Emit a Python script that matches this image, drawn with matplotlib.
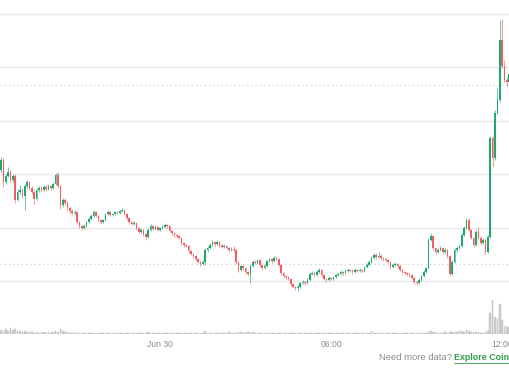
import matplotlib
matplotlib.use("Agg")
import matplotlib.pyplot as plt
import matplotlib.dates as mdates
import numpy as np
import pandas as pd

# ---- data (5-minute candles) ----
first_open = 12.08
closes = [
    12.27, 11.85, 11.97, 12.04, 11.89, 11.97, 11.52, 11.67, 11.70, 11.59,
    11.78, 11.85, 11.74, 11.67, 11.54, 11.70, 11.74, 11.70, 11.76, 11.72,
    11.78, 11.74, 11.82, 11.99, 11.78, 11.42, 11.52, 11.46, 11.37, 11.31,
    11.27, 11.29, 11.10, 11.03, 10.99, 11.03, 11.10, 11.16, 11.22, 11.29,
    11.22, 11.14, 11.10, 11.14, 11.25, 11.29, 11.24, 11.25, 11.29, 11.27,
    11.31, 11.33, 11.25, 11.18, 11.10, 11.07, 11.09, 10.99, 10.92, 10.96,
    10.88, 10.82, 10.96, 11.03, 10.97, 11.01, 10.96, 10.99, 11.01, 11.05,
    11.03, 10.94, 10.90, 10.86, 10.84, 10.81, 10.71, 10.67, 10.66, 10.56,
    10.51, 10.47, 10.41, 10.36, 10.32, 10.36, 10.58, 10.62, 10.67, 10.73,
    10.69, 10.73, 10.67, 10.64, 10.66, 10.62, 10.58, 10.60, 10.58, 10.36,
    10.21, 10.28, 10.24, 10.17, 10.13, 10.28, 10.36, 10.34, 10.39, 10.30,
    10.24, 10.28, 10.37, 10.41, 10.37, 10.43, 10.41, 10.30, 10.15, 10.09,
    10.07, 10.04, 9.94, 9.89, 9.87, 9.89, 9.96, 9.98, 9.96, 10.02,
    10.13, 10.15, 10.11, 10.17, 10.21, 10.11, 10.04, 10.02, 10.06, 10.04,
    10.07, 10.11, 10.13, 10.17, 10.15, 10.19, 10.21, 10.19, 10.17, 10.21,
    10.19, 10.21, 10.19, 10.26, 10.30, 10.36, 10.43, 10.49, 10.45, 10.47,
    10.43, 10.41, 10.39, 10.36, 10.26, 10.30, 10.32, 10.28, 10.21, 10.17,
    10.15, 10.13, 10.11, 10.06, 9.98, 9.96, 10.02, 10.09, 10.17, 10.24,
    10.77, 10.84, 10.62, 10.54, 10.58, 10.62, 10.54, 10.58, 10.47, 10.13,
    10.36, 10.58, 10.62, 10.66, 10.86, 10.99, 11.14, 10.96, 10.81, 10.67,
    10.92, 10.81, 10.71, 10.77, 10.54, 10.82, 12.68, 12.30, 13.15, 13.39,
    14.51, 14.03, 13.76, 13.73, 13.88,
]
highs = [
    12.32, 12.30, 12.01, 12.13, 12.08, 12.01, 12.00, 11.72, 11.80, 11.74,
    11.82, 11.89, 11.88, 11.77, 11.70, 11.74, 11.78, 11.77, 11.79, 11.79,
    11.81, 11.80, 11.85, 12.03, 12.04, 11.80, 11.56, 11.55, 11.49, 11.40,
    11.34, 11.33, 11.31, 11.12, 11.05, 11.06, 11.13, 11.19, 11.25, 11.33,
    11.31, 11.24, 11.16, 11.17, 11.28, 11.33, 11.31, 11.28, 11.32, 11.31,
    11.33, 11.36, 11.35, 11.27, 11.20, 11.12, 11.12, 11.11, 11.01, 10.99,
    10.98, 10.90, 10.99, 11.06, 11.05, 11.04, 11.03, 11.02, 11.04, 11.08,
    11.07, 11.05, 10.96, 10.92, 10.88, 10.86, 10.83, 10.73, 10.70, 10.68,
    10.58, 10.53, 10.49, 10.43, 10.38, 10.39, 10.61, 10.65, 10.71, 10.77,
    10.75, 10.76, 10.75, 10.69, 10.69, 10.68, 10.64, 10.63, 10.66, 10.60,
    10.38, 10.31, 10.30, 10.26, 10.19, 10.31, 10.39, 10.39, 10.42, 10.41,
    10.32, 10.31, 10.40, 10.44, 10.43, 10.46, 10.46, 10.43, 10.32, 10.17,
    10.11, 10.09, 10.06, 9.96, 9.91, 9.92, 9.99, 10.01, 10.00, 10.05,
    10.16, 10.18, 10.17, 10.20, 10.24, 10.23, 10.13, 10.06, 10.09, 10.08,
    10.10, 10.14, 10.16, 10.20, 10.19, 10.22, 10.24, 10.23, 10.22, 10.24,
    10.23, 10.24, 10.23, 10.29, 10.33, 10.39, 10.46, 10.53, 10.52, 10.54,
    10.50, 10.45, 10.43, 10.41, 10.38, 10.33, 10.35, 10.34, 10.30, 10.23,
    10.19, 10.17, 10.15, 10.13, 10.08, 10.00, 10.05, 10.12, 10.20, 10.27,
    10.80, 10.90, 10.86, 10.64, 10.62, 10.66, 10.64, 10.62, 10.60, 10.49,
    10.40, 10.62, 10.65, 10.70, 10.90, 11.03, 11.18, 11.18, 10.98, 10.83,
    10.95, 11.01, 10.85, 10.80, 10.79, 10.86, 12.72, 12.72, 13.20, 13.61,
    14.89, 14.91, 14.14, 13.82, 13.92,
]
lows = [
    12.04, 11.76, 11.82, 11.94, 11.85, 11.86, 11.46, 11.50, 11.63, 11.55,
    11.33, 11.74, 11.70, 11.62, 11.44, 11.52, 11.67, 11.67, 11.68, 11.69,
    11.70, 11.71, 11.72, 11.80, 11.75, 11.35, 11.38, 11.42, 11.33, 11.28,
    11.24, 11.24, 11.07, 11.00, 10.96, 10.97, 11.01, 11.08, 11.14, 11.20,
    11.19, 11.11, 11.06, 11.08, 11.12, 11.23, 11.21, 11.22, 11.23, 11.25,
    11.25, 11.29, 11.23, 11.15, 11.07, 11.04, 11.05, 10.96, 10.89, 10.90,
    10.85, 10.77, 10.80, 10.94, 10.95, 10.95, 10.93, 10.94, 10.97, 10.99,
    11.00, 10.91, 10.87, 10.83, 10.81, 10.78, 10.68, 10.64, 10.63, 10.53,
    10.48, 10.44, 10.38, 10.33, 10.29, 10.30, 10.30, 10.55, 10.60, 10.65,
    10.66, 10.67, 10.64, 10.61, 10.62, 10.59, 10.55, 10.56, 10.55, 10.32,
    10.17, 10.19, 10.21, 10.13, 10.10, 9.96, 10.26, 10.31, 10.32, 10.27,
    10.21, 10.22, 10.26, 10.35, 10.34, 10.35, 10.38, 10.27, 10.12, 10.06,
    10.04, 10.01, 9.91, 9.86, 9.83, 9.81, 9.87, 9.94, 9.93, 9.94,
    10.00, 10.11, 10.08, 10.09, 10.15, 10.08, 10.01, 9.99, 10.00, 10.01,
    10.02, 10.05, 10.09, 10.11, 10.12, 10.13, 10.17, 10.16, 10.14, 10.15,
    10.16, 10.17, 10.16, 10.17, 10.24, 10.28, 10.34, 10.41, 10.42, 10.43,
    10.40, 10.38, 10.36, 10.33, 10.23, 10.24, 10.28, 10.25, 10.18, 10.14,
    10.12, 10.10, 10.08, 10.03, 9.95, 9.93, 9.94, 10.00, 10.07, 10.15,
    10.22, 10.74, 10.58, 10.50, 10.52, 10.56, 10.51, 10.52, 10.44, 10.09,
    10.11, 10.34, 10.55, 10.59, 10.64, 10.84, 10.97, 10.93, 10.78, 10.63,
    10.65, 10.78, 10.68, 10.69, 10.51, 10.52, 10.80, 12.13, 12.27, 13.12,
    13.35, 13.99, 13.72, 13.66, 13.54,
]
volumes = [
    4, 3, 5, 3, 6, 4, 5, 3, 3, 2,
    3, 2, 2, 2, 1.5, 2, 1.5, 2, 2, 1.5,
    2, 1.5, 2, 3, 2.5, 5, 3, 2, 2, 1.5,
    1.5, 2, 1.5, 1.5, 1.5, 1, 1.5, 1, 1.5, 1,
    1, 1.5, 1, 1, 1.5, 1, 1, 1.5, 1, 1,
    1, 1, 1, 1.5, 1, 1, 1, 1, 1.5, 1,
    1, 1, 2, 1, 1.5, 1, 1, 1, 1, 1.5,
    1, 1, 1, 1, 1, 1, 1, 1, 1, 1,
    1, 1, 1, 1, 1, 1.5, 3, 1.5, 1, 1,
    1, 1.5, 1, 1, 1, 1, 2, 1, 1, 1,
    2, 2.5, 1.5, 2, 2.5, 2.5, 2, 1.5, 1, 1,
    1, 1, 1, 1, 1, 1, 1, 1, 1, 1.5,
    1, 1, 1.5, 1, 1, 1.5, 1, 1, 1, 1.5,
    1.5, 1, 1, 1.5, 1, 1, 1, 1, 1, 1,
    1, 1, 1, 1, 1, 1, 1, 1, 1, 1,
    1, 1, 1, 1, 1, 1.5, 3, 1.5, 1, 1,
    1, 1, 1, 1, 1, 1, 1, 1, 1, 1,
    1, 1, 1, 1, 1, 1, 1.5, 1, 1, 1,
    3.5, 3, 2, 2, 1.5, 1.5, 1.5, 2, 1.5, 2,
    2, 2, 2.5, 3, 3, 2.5, 4, 3.5, 2, 2.5,
    2.5, 2, 1.5, 1.5, 2, 3, 21, 34, 17, 15,
    30, 14, 8, 7, 7,
]
grid_levels = [10, 11, 12, 13, 14, 15]
marker_levels = [13.67, 10.32]
tick_times = ["2024-06-30 00:00", "2024-06-30 06:00", "2024-06-30 12:00"]
tick_labels = ["Jun 30", "06:00", "12:00"]
start_time = "2024-06-29 18:25"

# ---- derived ----
n = len(closes)
opens = [first_open] + closes[:-1]
times = pd.date_range(start_time, periods=n, freq="5min")
xs = mdates.date2num(times.to_pydatetime())
step = 5.0 / 1440.0

GREEN = "#1ea86c"
RED = "#f05f63"

W, H = 510, 369
fig = plt.figure(figsize=(W / 100, H / 100), dpi=100)
fig.patch.set_facecolor("white")

ax_rect = [0, 35 / H, 1, 334 / H]
axv = fig.add_axes(ax_rect)
ax = fig.add_axes(ax_rect, sharex=axv)
ax.patch.set_alpha(0)

# volume
axv.bar(xs, volumes, width=step * 0.7, color="#cdcdcd", edgecolor="#c0c0c0",
        linewidth=0.3)
axv.set_ylim(0, max(volumes) * 334 / 34)
axv.axis("off")

# grid
for g in grid_levels:
    ax.axhline(g, color="#e8e8e8", lw=1.0, zorder=0)
for m in marker_levels:
    ax.axhline(m, color="#d6d6d6", lw=0.9, dashes=(1.2, 2.2), zorder=0)

o = np.array(opens); c = np.array(closes)
hi = np.array(highs); lo = np.array(lows)
up = c >= o
cols = np.where(up, GREEN, RED)
ax.vlines(xs, lo, hi, colors=cols, lw=0.8, alpha=0.6, zorder=2)
bottoms = np.minimum(o, c)
heights = np.maximum(np.abs(c - o), 0.022)
ax.bar(xs, heights, bottom=bottoms, width=step * 0.72, color=cols,
       linewidth=0, zorder=3)

x0 = xs[0] - 0.42 * step
x1 = xs[0] + 214.32 * step
ax.set_xlim(x0, x1)
ax.set_ylim(10 - 53 / 53.4, 10 + 281 / 53.4)

for s in ax.spines.values():
    s.set_visible(False)
ax.set_yticks([])
tick_x = mdates.date2num(pd.to_datetime(tick_times).to_pydatetime())
ax.set_xticks(tick_x)
ax.set_xticklabels(tick_labels, fontsize=6.2, color="#8a8a8a",
                   family="Liberation Sans")
ax.tick_params(axis="x", length=0, pad=4.0)

# footer
fig.text(452 / W, (369 - 358) / H, "Need more data?", ha="right", va="center",
         fontsize=6.8, color="#8c8c8c", family="Liberation Sans")
fig.text(454 / W, (369 - 358) / H, "Explore Coin", ha="left", va="center",
         fontsize=6.4, color="#2f9e45", family="Liberation Sans",
         fontweight="bold")
fig.add_artist(plt.Line2D([454 / W, 510 / W], [(369 - 362.5) / H] * 2,
                          color="#2f9e45", lw=0.6))

fig.savefig("out.png", dpi=100, facecolor="white")
